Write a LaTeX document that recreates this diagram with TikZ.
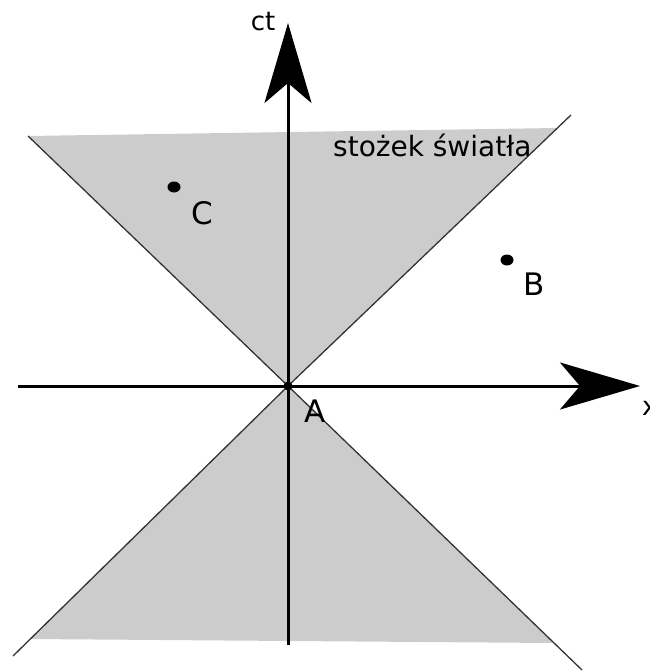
\documentclass[tikz,border=0pt]{standalone}
\usepackage{fontspec}
\setmainfont{DejaVu Sans}
\usetikzlibrary{arrows.meta}
\tikzset{
  axis/.style={line width=3pt, -{Stealth[length=80pt, width=47pt, inset=20pt]}},
  cone/.style={draw=black!80, line width=1.3pt},
  conefill/.style={fill=gray!40},
  pt/.style={ellipse, fill=black, inner sep=0pt, minimum width=13pt, minimum height=11pt},
  lbl/.style={inner sep=0pt, font=\fontsize{31}{36}\selectfont},
  txt/.style={inner sep=0pt, font=\fontsize{26}{30}\selectfont},
}
\usetikzlibrary{shapes.geometric}
\begin{document}
\begin{tikzpicture}[x=1pt, y=-1pt]
  \useasboundingbox (0,0) rectangle (649,672);
  % cone corners
  \coordinate (o) at (288,386);
  \coordinate (ul) at (28,136); \coordinate (uf) at (557,128); \coordinate (ur) at (571,115);
  \coordinate (ll) at (13,656); \coordinate (llf) at (30,639);
  \coordinate (lrf) at (554,643); \coordinate (lr) at (582,670);
  \fill[conefill] (ul) -- (uf) -- (o) -- cycle;
  \fill[conefill] (o) -- (llf) -- (lrf) -- cycle;
  \draw[cone] (ul) -- (o) -- (lr);
  \draw[cone] (ur) -- (o) -- (ll);
  % axes
  \coordinate (ybot) at (288,645); \coordinate (ytop) at (288,23);
  \coordinate (xl) at (18,386); \coordinate (xr) at (640,386);
  \draw[axis] (ybot) -- (ytop);
  \draw[axis] (xl) -- (xr);
  \node[txt, anchor=base] (ct) at (263,30) {ct};
  \node[txt, anchor=base west] (xx) at (642,415) {x};
  \node[txt, anchor=base west, font=\fontsize{28}{32}\selectfont] (stozek) at (333,156) {stożek światła};
  % events
  \node[pt, minimum width=9pt, minimum height=9pt] (a) at (o) {};
  \node[pt] (b) at (507,260) {};
  \node[pt] (c) at (174,187) {};
  \node[lbl, anchor=base] (al) at (315,422) {A};
  \node[lbl, anchor=base] (bl) at (534,295) {B};
  \node[lbl, anchor=base] (cl) at (202,224) {C};
\end{tikzpicture}
\end{document}
